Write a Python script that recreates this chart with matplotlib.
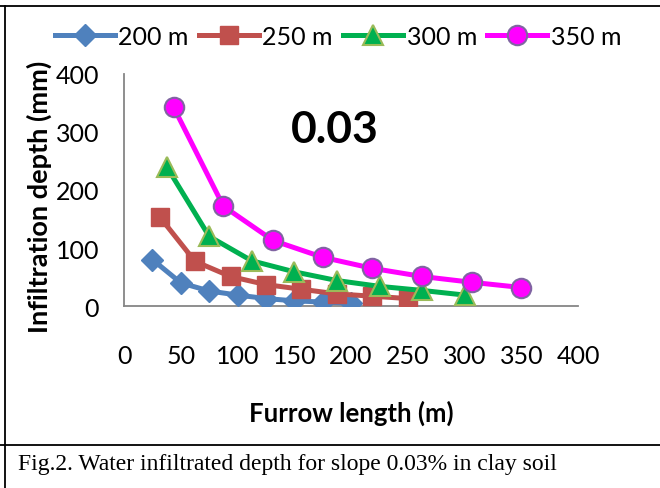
import matplotlib
matplotlib.use("Agg")
import matplotlib.pyplot as plt
from matplotlib.lines import Line2D

# furrow length (m) for each field length
x_200 = [25, 50, 75, 100, 125, 150, 175, 200]
x_250 = [31.25, 62.5, 93.75, 125, 156.25, 187.5, 218.75, 250]
x_300 = [37.5, 75, 112.5, 150, 187.5, 225, 262.5, 300]
x_350 = [43.75, 87.5, 131.25, 175, 218.75, 262.5, 306.25, 350]

# infiltration depth (mm)
y_200 = [80, 40, 26, 19, 13, 9, 7, 5]
y_250 = [154, 77, 51, 37, 29, 21, 17, 13]
y_300 = [240, 120, 78, 59, 44, 34, 27, 19]
y_350 = [342, 172, 113, 84, 65, 51, 41, 32]

labels = ["200 m", "250 m", "300 m", "350 m"]
x_ticks = [0, 50, 100, 150, 200, 250, 300, 350, 400]
y_ticks = [0, 100, 200, 300, 400]

plt.rcParams['font.family'] = ['Lato', 'DejaVu Sans']

fig = plt.figure(figsize=(6.6, 4.89), dpi=100)
ax = fig.add_axes([0.188, 0.372, 0.688, 0.475])

lw = 3.6
ax.plot(x_200, y_200, color='#4F81BD', lw=lw, marker='D', ms=11,
        mfc='#4F81BD', mec='#4F81BD', label=labels[0], zorder=3)
ax.plot(x_250, y_250, color='#C0504D', lw=lw, marker='s', ms=13,
        mfc='#C0504D', mec='#C0504D', label=labels[1], zorder=4)
ax.plot(x_300, y_300, color='#00B050', lw=lw, marker='^', ms=14,
        mfc='#00B050', mec='#9BBB59', mew=1.5, label=labels[2], zorder=5)
ax.plot(x_350, y_350, color='#FF00FF', lw=lw, marker='o', ms=14,
        mfc='#FF00FF', mec='#8064A2', mew=1.5, label=labels[3], zorder=6)

ax.set_xlim(0, 400)
ax.set_ylim(0, 400)
ax.set_xticks(x_ticks)
ax.set_yticks(y_ticks)
ax.tick_params(length=0, labelsize=18)
ax.tick_params(axis='x', pad=27)
ax.tick_params(axis='y', pad=18)
for s in ['top', 'right']:
    ax.spines[s].set_visible(False)
for s in ['left', 'bottom']:
    ax.spines[s].set_color('#868686')
    ax.spines[s].set_linewidth(1.3)
ax.patch.set_visible(False)

ax.set_xlabel('Furrow length (m)', fontsize=18.5, fontweight='bold')
ax.set_ylabel('Infiltration depth (mm)', fontsize=19.5, fontweight='bold')
ax.xaxis.set_label_coords(0.5, (307 - 400) / 232)
ax.yaxis.set_label_coords((52 - 124) / 454, 0.475)
ax.text(0.465, 0.763, '0.03', transform=ax.transAxes, fontsize=32,
        fontweight='bold', ha='center', va='center')

leg = fig.legend(loc='center', bbox_to_anchor=(0.512, 0.924), ncol=4, frameon=False,
                 fontsize=18, handlelength=2.4, handletextpad=0.15, columnspacing=0.4,
                 borderaxespad=0)

# table cell borders around figure and caption
fig.add_artist(Line2D([0, 1], [1 - 7 / 489] * 2, color='black', lw=1.3))
fig.add_artist(Line2D([5 / 660] * 2, [0, 1 - 7 / 489], color='black', lw=1.3))
fig.add_artist(Line2D([0, 1], [1 - 446 / 489] * 2, color='black', lw=1.3))

fig.text(18 / 660, 1 - 465 / 489, 'Fig.2. Water infiltrated depth for slope 0.03% in clay soil',
         family='Liberation Serif', fontsize=17, ha='left', va='center')

fig.savefig('out.png', dpi=100)
